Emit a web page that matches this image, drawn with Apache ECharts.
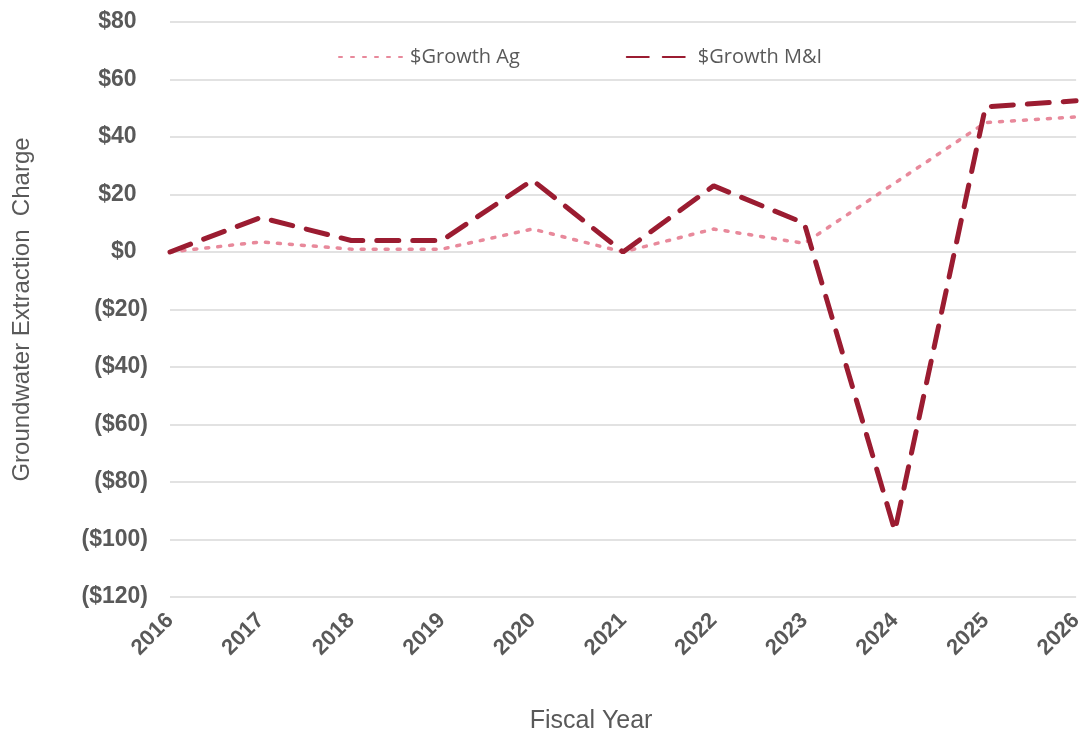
<!DOCTYPE html>
<html>
<head>
<meta charset="utf-8">
<script src="https://cdn.jsdelivr.net/npm/echarts@6/dist/echarts.min.js"></script>
<style>
  html, body { margin: 0; padding: 0; background: #fff; }
  #chart { width: 1086px; height: 739px; }
</style>
</head>
<body>
<div id="chart"></div>
<script>
const years = ['2016', '2017', '2018', '2019', '2020', '2021', '2022', '2023', '2024', '2025', '2026'];
const growthAg = [0, 3.5, 1, 1, 8, 0, 8, 3, 24, 45, 47];
const growthMI = [0, 12, 4, 4, 25, 0, 23, 10, -97, 50.5, 52.6];

// accounting style: negatives in brackets, positives padded so digits line up
function money(v) {
  return v < 0 ? '($' + Math.abs(v) + ')' : '$' + v + '\u2002';
}

const chart = echarts.init(document.getElementById('chart'));
chart.setOption({
  animation: false,
  grid: { left: 170, right: 6, top: 22, bottom: 142 },
  legend: {
    top: 42,
    left: 333,
    itemGap: 106,
    itemWidth: 66,
    itemHeight: 10,
    itemStyle: { opacity: 0 },
    textStyle: { color: '#595959', fontSize: 20, fontFamily: 'Open Sans' },
    data: ['$Growth Ag', '$Growth M&I']
  },
  xAxis: {
    type: 'category',
    data: years,
    boundaryGap: false,
    name: 'Fiscal Year',
    nameLocation: 'middle',
    nameGap: 112,
    nameTextStyle: { color: '#595959', fontSize: 25, fontFamily: 'Arial', padding: [0, 64, 0, 0] },
    axisLine: { show: false, onZero: false },
    axisTick: { show: false },
    axisLabel: {
      rotate: 45,
      margin: 20,
      color: '#595959',
      fontSize: 22,
      fontWeight: 'bold',
      fontFamily: 'Arial'
    }
  },
  yAxis: {
    type: 'value',
    min: -120,
    max: 80,
    interval: 20,
    name: 'Groundwater Extraction  Charge',
    nameLocation: 'middle',
    nameGap: 136,
    nameTextStyle: { color: '#595959', fontSize: 24, fontFamily: 'Arial' },
    axisLabel: {
      formatter: money,
      margin: 22,
      color: '#595959',
      fontSize: 23,
      fontWeight: 'bold',
      fontFamily: 'Arial'
    },
    splitLine: { lineStyle: { color: '#d9d9d9', width: 1.5 } }
  },
  series: [
    {
      name: '$Growth Ag',
      type: 'line',
      data: growthAg,
      symbol: 'none',
      itemStyle: { color: '#e8899b' },
      lineStyle: { color: '#e8899b', width: 3.5, type: [3, 9], cap: 'round' }
    },
    {
      name: '$Growth M&I',
      type: 'line',
      data: growthMI,
      symbol: 'none',
      itemStyle: { color: '#9b1c31' },
      lineStyle: { color: '#9b1c31', width: 5, type: [22, 14], cap: 'round' }
    }
  ]
});
</script>
</body>
</html>
